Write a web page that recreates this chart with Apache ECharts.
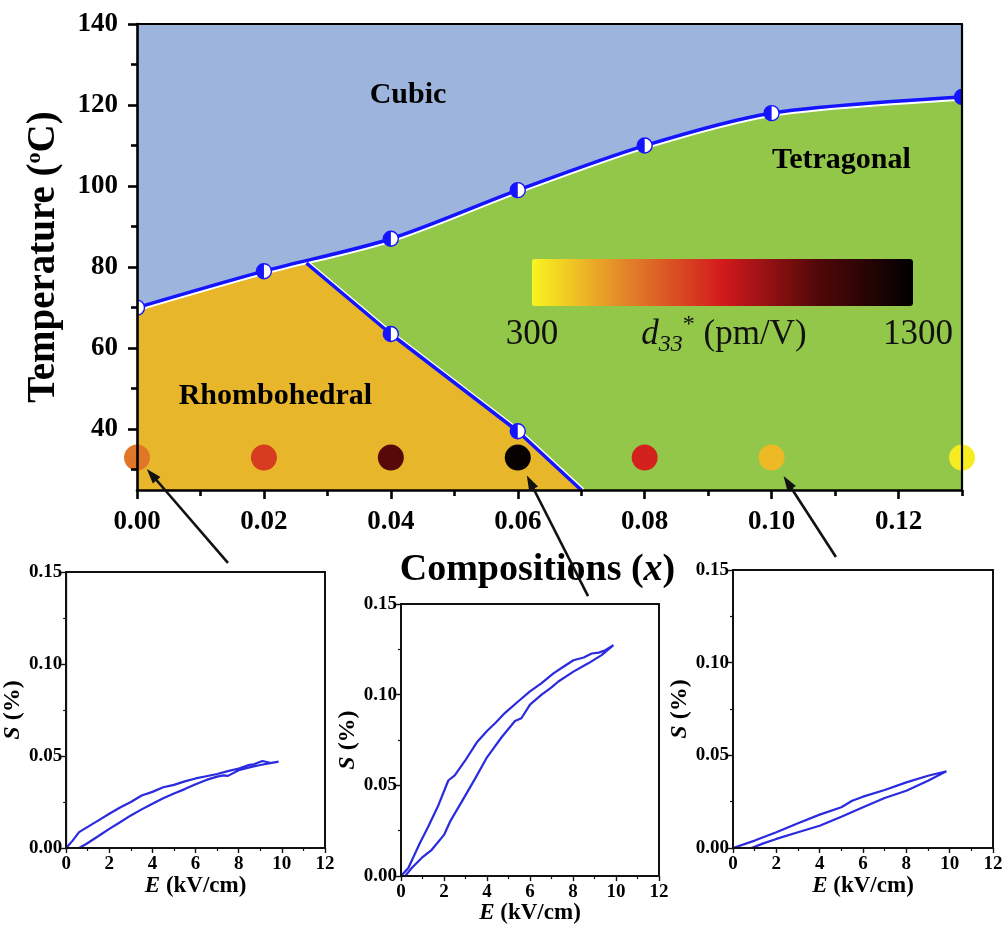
<!DOCTYPE html>
<html>
<head>
<meta charset="utf-8">
<script src="https://cdn.jsdelivr.net/npm/echarts@6/dist/echarts.min.js"></script>
<style>
  html, body { margin: 0; padding: 0; background: #fff; }
  #chart { width: 1006px; height: 926px; }
</style>
</head>
<body>
<div id="chart"></div>
<script>
// ---- Phase diagram data -------------------------------------------------
// Cubic / ferroelectric boundary (Curie temperature)
const curieX = [0, 0.02, 0.04, 0.06, 0.08, 0.10, 0.13];
const curieT = [70, 79, 87, 99, 110, 118, 122];
// Rhombohedral / tetragonal boundary (first point is the junction)
const rtX = [0.0267, 0.04, 0.06, 0.07];
const rtT = [81, 63.5, 39.5, 25];
// measured transition points on the R-T boundary
const rtPointX = [0.04, 0.06];
const rtPointT = [63.5, 39.5];

// d33* of each composition, drawn as colour-coded dots
const compX = [0, 0.02, 0.04, 0.06, 0.08, 0.10, 0.13];
const d33 = [580, 720, 1040, 1280, 780, 430, 320];
const dotT = 33;

// phase names and where they are written
const phaseNames = ['Cubic', 'Tetragonal', 'Rhombohedral'];
const phaseX = [0.0427, 0.111, 0.0218];
const phaseT = [122.3, 106.4, 48.1];

// axis ticks of the phase diagram
const xTickValues = [0, 0.02, 0.04, 0.06, 0.08, 0.10, 0.12];
const xMinorTicks = [0.01, 0.03, 0.05, 0.07, 0.09, 0.11, 0.13];
const yTickValues = [40, 60, 80, 100, 120, 140];
const yMinorTicks = [30, 50, 70, 90, 110, 130];

// ---- Strain loops S(E) --------------------------------------------------
// x = 0.00
const loop1RiseE = [0.6, 0.93, 1.5, 2.0, 2.5, 3.0, 3.5, 4.0, 4.5, 5.0, 5.5, 6.0, 6.5, 7.0, 7.3, 7.5, 8.0, 8.5, 9.0, 9.4, 9.85];
const loop1RiseS = [0, 0.0022, 0.0065, 0.0104, 0.014, 0.0177, 0.021, 0.0241, 0.027, 0.0296, 0.032, 0.0347, 0.037, 0.0388, 0.0395, 0.0392, 0.0423, 0.0438, 0.0451, 0.046, 0.0469];
const loop1FallE = [9.85, 9.5, 9.1, 8.7, 8.5, 8.0, 7.5, 7.0, 6.5, 6.0, 5.5, 5.0, 4.5, 4.0, 3.5, 3.0, 2.5, 2.0, 1.5, 1.0, 0.6, 0.3, 0];
const loop1FallS = [0.0469, 0.0462, 0.0473, 0.0455, 0.0452, 0.0432, 0.0418, 0.0402, 0.039, 0.0378, 0.0362, 0.0343, 0.033, 0.0305, 0.0285, 0.025, 0.022, 0.0186, 0.015, 0.0115, 0.0086, 0.004, 0];
// x = 0.06
const loop2RiseE = [0.19, 0.5, 0.96, 1.43, 2.0, 2.28, 2.82, 3.44, 4.0, 4.67, 5.3, 5.6, 6.0, 6.54, 7.0, 7.32, 8.02, 8.71, 9.33, 9.88];
const loop2RiseS = [0, 0.0045, 0.010, 0.0145, 0.0227, 0.030, 0.0409, 0.0536, 0.0655, 0.0764, 0.0855, 0.087, 0.0945, 0.100, 0.104, 0.1073, 0.1127, 0.1173, 0.1218, 0.1273];
const loop2FallE = [9.88, 9.5, 9.2, 8.87, 8.5, 8.02, 7.5, 7.09, 6.54, 6.0, 5.46, 4.84, 4.4, 4.0, 3.52, 2.98, 2.5, 2.2, 1.74, 1.27, 0.88, 0.34, 0];
const loop2FallS = [0.1273, 0.1245, 0.1232, 0.1227, 0.1205, 0.119, 0.115, 0.1118, 0.1064, 0.1018, 0.0964, 0.090, 0.0845, 0.080, 0.0736, 0.0636, 0.0555, 0.0527, 0.0391, 0.0273, 0.0182, 0.0045, 0];
// x = 0.10
const loop3RiseE = [0.85, 1.4, 2.0, 3.0, 4.0, 5.0, 6.0, 7.0, 8.0, 9.0, 9.85];
const loop3RiseS = [0, 0.0025, 0.0049, 0.0085, 0.012, 0.0169, 0.022, 0.027, 0.0309, 0.0363, 0.0414];
const loop3FallE = [9.85, 9.0, 8.0, 7.0, 6.0, 5.5, 5.0, 4.0, 3.0, 2.0, 1.0, 0];
const loop3FallS = [0.0414, 0.039, 0.0354, 0.0313, 0.0277, 0.0255, 0.022, 0.018, 0.0133, 0.0085, 0.004, 0];

// ---- Styling ------------------------------------------------------------
const serif = "'Liberation Serif', 'Times New Roman', serif";
const cubicColor = '#9db4dd';
const tetraColor = '#93c74a';
const rhomboColor = '#e7b62b';
const boundaryBlue = '#1414ff';
const loopBlue = '#2a2adf';
const colorRamp = ['#f8f520', '#e2822a', '#d21a1c', '#520808', '#000000'];

// colour bar placement
const cb = { left: 532, top: 259, width: 381, height: 47 };

const zip = (xs, ys) => xs.map((x, i) => [x, ys[i]]);
const loopData = (rE, rS, fE, fS) => zip(rE, rS).concat(zip(fE, fS));

// orange region: Curie line up to the junction, then down the R-T line
const junctionX = rtX[0];
const rhomboPoly = zip(curieX, curieT).filter(p => p[0] < junctionX).concat(zip(rtX, rtT));

const chart = echarts.init(document.getElementById('chart'), null, { renderer: 'canvas' });

const bold = { fontFamily: serif, fontWeight: 'bold', color: '#000' };

// ----- grids -----
const grids = [
  { left: 137, top: 24, width: 825, height: 466, show: true, backgroundColor: cubicColor, borderWidth: 0 },
  { left: 66, top: 572, width: 259, height: 276, show: true, backgroundColor: '#fff', borderColor: '#111', borderWidth: 2 },
  { left: 401, top: 604, width: 258, height: 279, show: true, backgroundColor: '#fff', borderColor: '#111', borderWidth: 2 },
  { left: 733, top: 570, width: 260, height: 278, show: true, backgroundColor: '#fff', borderColor: '#111', borderWidth: 2 }
];

const axisLineMain = { onZero: false, lineStyle: { color: '#000', width: 2.6 } };

function subX(g, margin, gap) {
  return {
    gridIndex: g, type: 'value', min: 0, max: 12, interval: 2, position: 'bottom',
    axisLine: { onZero: false, lineStyle: { color: '#111', width: 2 } },
    axisTick: { show: true, inside: false, length: 5, lineStyle: { color: '#111', width: 1.4 } },
    minorTick: { show: true, splitNumber: 2, length: 3, lineStyle: { color: '#111', width: 1.2 } },
    axisLabel: Object.assign({ fontSize: 19, margin: margin }, bold),
    splitLine: { show: false },
    name: '{i|E}{b| (kV/cm)}', nameLocation: 'middle', nameGap: gap,
    nameTextStyle: { rich: {
      i: Object.assign({ fontSize: 23, fontStyle: 'italic' }, bold),
      b: Object.assign({ fontSize: 23 }, bold)
    } },
    z: 10
  };
}
function subY(g, gap) {
  return {
    gridIndex: g, type: 'value', min: 0, max: 0.15, interval: 0.05, position: 'left',
    axisLine: { onZero: false, lineStyle: { color: '#111', width: 2 } },
    axisTick: { show: true, inside: false, length: 5, lineStyle: { color: '#111', width: 1.4 } },
    minorTick: { show: true, splitNumber: 2, length: 3, lineStyle: { color: '#111', width: 1.2 } },
    axisLabel: Object.assign({ fontSize: 19, margin: 4, formatter: v => v.toFixed(2) }, bold),
    splitLine: { show: false },
    name: '{i|S}{b| (%)}', nameLocation: 'middle', nameGap: gap, nameRotate: 90,
    nameTextStyle: { rich: {
      i: Object.assign({ fontSize: 24, fontStyle: 'italic' }, bold),
      b: Object.assign({ fontSize: 24 }, bold)
    } },
    z: 10
  };
}

const xAxes = [
  {
    gridIndex: 0, type: 'value', min: 0, max: 0.13, position: 'bottom',
    axisLine: axisLineMain,
    axisTick: { customValues: xTickValues, length: 9, lineStyle: { color: '#000', width: 2.6 } },
    axisLabel: Object.assign({ customValues: xTickValues, fontSize: 27, margin: 19, formatter: v => v.toFixed(2) }, bold),
    splitLine: { show: false },
    name: '{b|Compositions (}{i|x}{b|)}', nameLocation: 'middle', nameGap: 61,
    nameTextStyle: { padding: [0, 24, 0, 0], rich: {
      b: Object.assign({ fontSize: 38 }, bold),
      i: Object.assign({ fontSize: 38, fontStyle: 'italic' }, bold)
    } },
    z: 10
  },
  {
    gridIndex: 0, type: 'value', min: 0, max: 0.13, position: 'bottom',
    axisLine: { show: false },
    axisTick: { customValues: xMinorTicks, length: 6, lineStyle: { color: '#000', width: 2.6 } },
    axisLabel: { show: false }, splitLine: { show: false }, z: 10
  },
  {
    gridIndex: 0, type: 'value', min: 0, max: 0.13, position: 'top',
    axisLine: { onZero: false, lineStyle: { color: '#000', width: 2.2 } },
    axisTick: { show: false }, axisLabel: { show: false }, splitLine: { show: false }, z: 10
  },
  subX(1, 7, 23), subX(2, 6, 24), subX(3, 7, 23)
];

const yAxes = [
  {
    gridIndex: 0, type: 'value', min: 25, max: 140, position: 'left',
    axisLine: axisLineMain,
    axisTick: { customValues: yTickValues, length: 9, lineStyle: { color: '#000', width: 2.6 } },
    axisLabel: Object.assign({ customValues: yTickValues, fontSize: 27, margin: 19 }, bold),
    splitLine: { show: false },
    name: '{b|Temperature (}{s|o}{b|C)}', nameLocation: 'middle', nameGap: 72, nameRotate: 90,
    nameTextStyle: { rich: {
      b: Object.assign({ fontSize: 39, lineHeight: 42 }, bold),
      s: Object.assign({ fontSize: 22, verticalAlign: 'top', lineHeight: 42 }, bold)
    } },
    z: 10
  },
  {
    gridIndex: 0, type: 'value', min: 25, max: 140, position: 'left',
    axisLine: { show: false },
    axisTick: { customValues: yMinorTicks, length: 6, lineStyle: { color: '#000', width: 2.6 } },
    axisLabel: { show: false }, splitLine: { show: false }, z: 10
  },
  {
    gridIndex: 0, type: 'value', min: 25, max: 140, position: 'right',
    axisLine: { onZero: false, lineStyle: { color: '#000', width: 2.2 } },
    axisTick: { show: false }, axisLabel: { show: false }, splitLine: { show: false }, z: 10
  },
  subY(1, 34), subY(2, 34), subY(3, 34)
];

const boundaryLine = (data, smooth, shadowX, shadowY) => ({
  type: 'line', xAxisIndex: 0, yAxisIndex: 0, data, smooth, symbol: 'none', silent: true, z: 3,
  lineStyle: { color: boundaryBlue, width: 3.5, shadowColor: '#ffffff', shadowBlur: 0, shadowOffsetX: shadowX, shadowOffsetY: shadowY }
});

const series = [
  // tetragonal field: everything below the Curie line
  {
    type: 'line', xAxisIndex: 0, yAxisIndex: 0, data: zip(curieX, curieT), smooth: 0.3,
    symbol: 'none', silent: true, z: 1, lineStyle: { width: 0 },
    areaStyle: { color: tetraColor, opacity: 1, origin: 'start' }
  },
  // rhombohedral field
  {
    type: 'line', xAxisIndex: 0, yAxisIndex: 0, data: rhomboPoly,
    symbol: 'none', silent: true, z: 1, lineStyle: { width: 0 },
    areaStyle: { color: rhomboColor, opacity: 1, origin: 'start' }
  },
  boundaryLine(zip(curieX, curieT), 0.3, 0, 2),
  boundaryLine(zip(rtX, rtT), false, 2, 0),
  // half-filled transition markers
  {
    type: 'custom', xAxisIndex: 0, yAxisIndex: 0, clip: true, z: 4, silent: true,
    data: zip(curieX, curieT).concat(zip(rtPointX, rtPointT)),
    encode: { x: 0, y: 1 },
    renderItem: (params, api) => {
      const p = api.coord([api.value(0), api.value(1)]);
      const r = 7.5;
      return {
        type: 'group', children: [
          { type: 'circle', shape: { cx: p[0], cy: p[1], r }, style: { fill: '#fff', stroke: boundaryBlue, lineWidth: 1.4 } },
          { type: 'sector', shape: { cx: p[0], cy: p[1], r0: 0, r, startAngle: Math.PI / 2, endAngle: Math.PI * 1.5 }, style: { fill: boundaryBlue } }
        ]
      };
    }
  },
  // d33* dots
  {
    type: 'scatter', xAxisIndex: 0, yAxisIndex: 0, z: 5, silent: true,
    symbolSize: 26, itemStyle: { opacity: 1 },
    data: compX.map((x, i) => [x, dotT, d33[i]])
  },
  // phase names
  {
    type: 'scatter', xAxisIndex: 0, yAxisIndex: 0, z: 6, silent: true,
    symbolSize: 1, itemStyle: { opacity: 0 },
    data: phaseNames.map((n, i) => ({ value: [phaseX[i], phaseT[i]], name: n })),
    label: Object.assign({ show: true, position: 'inside', formatter: p => p.name, fontSize: 30, opacity: 1 }, bold),
    labelLayout: {}
  },
  // strain loops
  {
    type: 'line', xAxisIndex: 3, yAxisIndex: 3, symbol: 'none', silent: true,
    data: loopData(loop1RiseE, loop1RiseS, loop1FallE, loop1FallS),
    lineStyle: { color: loopBlue, width: 2.2 }
  },
  {
    type: 'line', xAxisIndex: 4, yAxisIndex: 4, symbol: 'none', silent: true,
    data: loopData(loop2RiseE, loop2RiseS, loop2FallE, loop2FallS),
    lineStyle: { color: loopBlue, width: 2.2 }
  },
  {
    type: 'line', xAxisIndex: 5, yAxisIndex: 5, symbol: 'none', silent: true,
    data: loopData(loop3RiseE, loop3RiseS, loop3FallE, loop3FallS),
    lineStyle: { color: loopBlue, width: 2.2 }
  }
];

chart.setOption({
  animation: false,
  backgroundColor: '#fff',
  grid: grids,
  xAxis: xAxes,
  yAxis: yAxes,
  visualMap: {
    type: 'continuous', min: 300, max: 1300, seriesIndex: 5, dimension: 2,
    orient: 'horizontal', left: cb.left, top: cb.top,
    itemWidth: cb.height, itemHeight: cb.width, padding: 0,
    calculable: false, hoverLink: false, text: null, showLabel: false,
    inRange: { color: colorRamp }
  },
  series
});

// colour bar captions and arrows linking loops to their compositions
function arrow(from, to, gap) {
  const dx = to[0] - from[0], dy = to[1] - from[1];
  const L = Math.hypot(dx, dy);
  const ux = dx / L, uy = dy / L;
  const tip = [to[0] - ux * gap, to[1] - uy * gap];
  const head = 15, half = 5;
  const base = [tip[0] - ux * head, tip[1] - uy * head];
  return [
    { type: 'line', z: 100, shape: { x1: from[0], y1: from[1], x2: base[0] + ux * 2, y2: base[1] + uy * 2 }, style: { stroke: '#111', lineWidth: 2.6 } },
    { type: 'polygon', z: 100, shape: { points: [tip, [base[0] - uy * half, base[1] + ux * half], [base[0] + uy * half, base[1] - ux * half]] }, style: { fill: '#111' } }
  ];
}

const links = [
  { grid: 1, tail: [7.5, 0.155], comp: 0, gap: 15 },
  { grid: 2, tail: [8.7, 0.1543], comp: 3, gap: 20 },
  { grid: 3, tail: [4.75, 0.157], comp: 5, gap: 22 }
];

const graphics = [];
links.forEach(l => {
  const from = chart.convertToPixel({ gridIndex: l.grid }, l.tail);
  const to = chart.convertToPixel({ gridIndex: 0 }, [compX[l.comp], dotT]);
  graphics.push(...arrow(from, to, l.gap));
});

const capY = cb.top + cb.height + 29;
graphics.push(
  { type: 'text', z: 50, x: cb.left, y: capY, style: { text: '300', font: `35px ${serif}`, fill: '#111', align: 'center', verticalAlign: 'middle' } },
  { type: 'text', z: 50, x: cb.left + cb.width + 5, y: capY, style: { text: '1300', font: `35px ${serif}`, fill: '#111', align: 'center', verticalAlign: 'middle' } },
  {
    type: 'text', z: 50, x: cb.left + 192, y: capY, style: {
      text: '{d|d}{s|33}{p|*}{n| (pm/V)}', align: 'center', verticalAlign: 'middle', fill: '#111',
      rich: {
        d: { fontFamily: serif, fontSize: 35, fontStyle: 'italic', lineHeight: 44, verticalAlign: 'middle' },
        s: { fontFamily: serif, fontSize: 24, fontStyle: 'italic', lineHeight: 44, verticalAlign: 'bottom' },
        p: { fontFamily: serif, fontSize: 24, lineHeight: 44, verticalAlign: 'top' },
        n: { fontFamily: serif, fontSize: 35, lineHeight: 44, verticalAlign: 'middle' }
      }
    }
  }
);

chart.setOption({ graphic: graphics });
</script>
</body>
</html>
